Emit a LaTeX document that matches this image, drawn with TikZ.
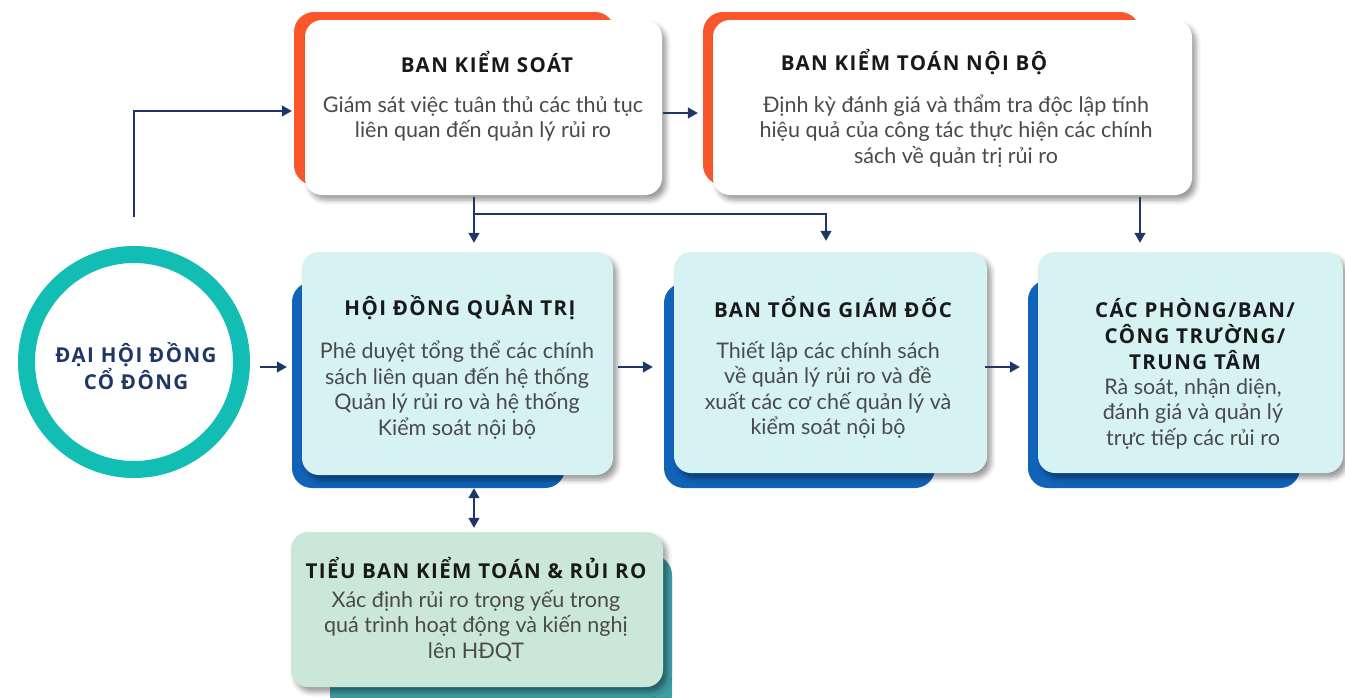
\documentclass[tikz,border=0pt]{standalone}
\usepackage{fontspec}
\setmainfont{Lato}
\newfontfamily\headfont{Open Sans}[LetterSpace=7]
\usetikzlibrary{calc,arrows.meta,shadows.blur}

\definecolor{navyC}{HTML}{1F3766}
\definecolor{orangeC}{HTML}{F9572B}
\definecolor{blueC}{HTML}{1063B8}
\definecolor{tealC}{HTML}{3E9EA6}
\definecolor{ringC}{HTML}{12BDB3}
\definecolor{cyanC}{HTML}{D6F2F2}
\definecolor{mintC}{HTML}{CBE7DA}
\definecolor{bodyC}{HTML}{4A4A4A}

\tikzset{
  box/.style={rounded corners=17pt, inner sep=0pt,
    blur shadow={shadow xshift=4pt, shadow yshift=-5pt, shadow blur radius=5pt, shadow opacity=40}},
  head/.style={font=\headfont\fontsize{20.5}{26}\selectfont\bfseries, text=black!90, align=center},
  body/.style={font=\fontsize{21.5}{25.5}\selectfont, text=bodyC, align=center},
  arr/.style={navyC, line width=1.4pt, -{Triangle[length=10pt,width=11pt]}},
  arrboth/.style={navyC, line width=1.4pt, {Triangle[length=10pt,width=11pt]}-{Triangle[length=10pt,width=11pt]}}
}

\begin{document}
\begin{tikzpicture}[x=1pt,y=-1pt]
  \useasboundingbox (0,0) rectangle (1345,697);

  % Back panels.
  \fill[orangeC, rounded corners=20pt] (294,12) rectangle (615,185);
  \fill[orangeC, rounded corners=20pt] (703,12) rectangle (1140,185);
  \fill[blueC, rounded corners=20pt] (292,282) rectangle (565,488);
  \fill[blueC, rounded corners=20pt] (664,283) rectangle (935,488);
  \fill[blueC, rounded corners=20pt] (1028,280) rectangle (1300,488);
  \fill[tealC, rounded corners=20pt] (330,555) rectangle (672,715);

  % Boxes.
  \node[box, fill=white, minimum width=357pt, minimum height=175pt] (bks) at (483.5,107.5) {};
  \node[box, fill=white, minimum width=479pt, minimum height=175pt] (bkt) at (952.5,107.5) {};
  \node[box, fill=cyanC, minimum width=311pt, minimum height=223pt] (hdqt) at (457.5,363.5) {};
  \node[box, fill=cyanC, minimum width=313pt, minimum height=221pt] (btgd) at (830.5,362.5) {};
  \node[box, fill=cyanC, minimum width=305pt, minimum height=221pt] (cp) at (1190.5,362.5) {};
  \node[box, fill=mintC, minimum width=372pt, minimum height=155pt] (tb) at (477,609.5) {};
  \node[draw=ringC, fill=white, line width=17pt, circle, minimum size=215pt] (dhcd) at (134,362) {};

  % Texts.
  \node[font=\headfont\fontsize{20.5}{25}\selectfont\bfseries, text=navyC, align=center] (dhcd-t) at (136,366) {ĐẠI HỘI ĐỒNG\\CỔ ĐÔNG};
  \node[head] (bks-h) at (487,62) {BAN KIỂM SOÁT};
  \node[body] (bks-b) at (483,119) {Giám sát việc tuân thủ các thủ tục\\liên quan đến quản lý rủi ro};
  \node[head] (bkt-h) at (914,62) {BAN KIỂM TOÁN NỘI BỘ};
  \node[body] (bkt-b) at (956,131) {Định kỳ đánh giá và thẩm tra độc lập tính\\hiệu quả của công tác thực hiện các chính\\sách về quản trị rủi ro};
  \node[head] (hdqt-h) at (460,307) {HỘI ĐỒNG QUẢN TRỊ};
  \node[body] (hdqt-b) at (457,390) {Phê duyệt tổng thể các chính\\sách liên quan đến hệ thống\\Quản lý rủi ro và hệ thống\\Kiểm soát nội bộ};
  \node[head] (btgd-h) at (833,307) {BAN TỔNG GIÁM ĐỐC};
  \node[body] (btgd-b) at (828,390) {Thiết lập các chính sách\\về quản lý rủi ro và đề\\xuất các cơ chế quản lý và\\kiểm soát nội bộ};
  \node[head] (cp-h) at (1195,334) {CÁC PHÒNG/BAN/\\CÔNG TRƯỜNG/\\TRUNG TÂM};
  \node[body] (cp-b) at (1193,414) {Rà soát, nhận diện,\\đánh giá và quản lý\\trực tiếp các rủi ro};
  \node[head] (tb-h) at (476,568) {TIỂU BAN KIỂM TOÁN \& RỦI RO};
  \node[body] (tb-b) at (476,626) {Xác định rủi ro trọng yếu trong\\quá trình hoạt động và kiến nghị\\lên HĐQT};

  % Connectors.
  \coordinate (j1) at (474,214);
  \coordinate (j2) at (826,214);
  \coordinate (j3) at (1140,214);
  \draw[arr] ($(dhcd.east)+(10,5)$) -- ($(hdqt.west)+(-15,3.5)$);
  \draw[arr] ($(dhcd.north)+(0,-29.5)$) |- ($(bks.west)+(-13,3.5)$);
  \draw[arr] ($(bks.east)+(1,5.5)$) -- ($(bkt.west)+(-15,5.5)$);
  \draw[arr, shorten >=9pt] ($(j1 |- bks.south)+(0,2)$) -- (j1 |- hdqt.north);
  \draw[arr, shorten >=11pt] (j1) -| (j2 |- btgd.north);
  \draw[arr, shorten >=9pt] ($(j3 |- bkt.south)+(0,2)$) -- (j3 |- cp.north);
  \draw[arr] ($(hdqt.east)+(5,3.5)$) -- ($(btgd.west)+(-21,4.5)$);
  \draw[arr] ($(btgd.east)+(-2,4.5)$) -- ($(cp.west)+(-18,4.5)$);
  \draw[arrboth, shorten <=13pt, shorten >=4pt] (j1 |- hdqt.south) -- (j1 |- tb.north);
\end{tikzpicture}
\end{document}
